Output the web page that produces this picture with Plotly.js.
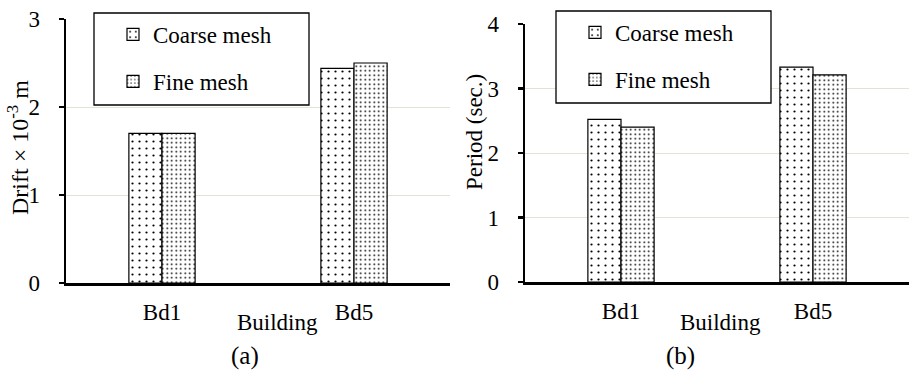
<!DOCTYPE html>
<html>
<head>
<meta charset="utf-8">
<script src="https://cdn.plot.ly/plotly-3.0.1.min.js"></script>
<style>html,body{margin:0;padding:0;background:#fff;}#chart{width:909px;height:379px;}</style>
</head>
<body>
<div id="chart"></div>
<script>
const buildings = ["Bd1", "Bd5"];
const driftCoarse = [1.70, 2.44];
const driftFine = [1.70, 2.50];
const periodCoarse = [2.52, 3.33];
const periodFine = [2.40, 3.21];
const seriesNames = ["Coarse mesh", "Fine mesh"];
const driftTicks = [0, 1, 2, 3];
const periodTicks = [0, 1, 2, 3, 4];

const FONT = "Liberation Serif";
const W = 909, H = 379;
const px = v => v / W;
const py = v => 1 - v / H;

const coarsePattern = {shape: ".", size: 7, solidity: 0.08, fgcolor: "#000", bgcolor: "#fff", fillmode: "replace"};
const finePattern = {shape: ".", size: 4.5, solidity: 0.12, fgcolor: "#000", bgcolor: "#fff", fillmode: "replace"};

function bar(x, y, name, pattern, xa, ya, legend) {
  return {
    type: "bar", x: x, y: y, name: name, xaxis: xa, yaxis: ya, legend: legend,
    legendgroup: legend + name,
    marker: {color: "#fff", pattern: pattern, line: {color: "#000", width: 1.2}},
    hoverinfo: "skip"
  };
}

const data = [
  bar(buildings, driftCoarse, seriesNames[0], coarsePattern, "x", "y", "legend"),
  bar(buildings, driftFine, seriesNames[1], finePattern, "x", "y", "legend"),
  bar(buildings, periodCoarse, seriesNames[0], coarsePattern, "x2", "y2", "legend2"),
  bar(buildings, periodFine, seriesNames[1], finePattern, "x2", "y2", "legend2")
];

const gridColor = "#e6e2d3";
function yax(domain, range, ticks) {
  return {
    domain: domain, range: range, tickvals: ticks, showgrid: true, gridcolor: gridColor, gridwidth: 1,
    showline: true, linecolor: "#000", linewidth: 2.5, ticks: "outside", ticklen: 5, tickwidth: 2.5, tickcolor: "#000",
    tickfont: {family: FONT, size: 23, color: "#000"}, zeroline: false, fixedrange: true, ticklabelstandoff: 14
  };
}
function xax(domain, anchor) {
  return {
    domain: domain, anchor: anchor, showline: true, linecolor: "#000", linewidth: 2.5, ticks: "", showgrid: false,
    tickfont: {family: FONT, size: 23, color: "#000"}, fixedrange: true, ticklabelstandoff: 7
  };
}

const legendFont = {family: FONT, size: 23, color: "#000"};
const layout = {
  width: W, height: H,
  margin: {l: 0, r: 0, t: 0, b: 0},
  paper_bgcolor: "#fff", plot_bgcolor: "#fff",
  font: {family: FONT, color: "#000"},
  barmode: "group", bargap: 0.655, bargroupgap: 0,
  showlegend: true,
  xaxis: xax([px(66), px(450)], "y"),
  yaxis: Object.assign(yax([py(283), py(19)], [0, 3], driftTicks), {anchor: "x"}),
  xaxis2: xax([px(525), px(909)], "y2"),
  yaxis2: Object.assign(yax([py(282), py(24)], [0, 4], periodTicks), {anchor: "x2"}),
  legend: {x: px(113), y: py(13), xanchor: "left", yanchor: "top", bgcolor: "rgba(0,0,0,0)", borderwidth: 0,
    font: legendFont, traceorder: "grouped", tracegroupgap: 14, itemwidth: 30},
  legend2: {x: px(575), y: py(11), xanchor: "left", yanchor: "top", bgcolor: "rgba(0,0,0,0)", borderwidth: 0,
    font: legendFont, traceorder: "grouped", tracegroupgap: 14, itemwidth: 30},
  shapes: [
    {type: "rect", xref: "paper", yref: "paper", x0: px(94), x1: px(309), y0: py(105), y1: py(13), line: {color: "#000", width: 1.3}, fillcolor: "#fff", layer: "above"},
    {type: "rect", xref: "paper", yref: "paper", x0: px(556), x1: px(771), y0: py(103), y1: py(11), line: {color: "#000", width: 1.3}, fillcolor: "#fff", layer: "above"}
  ],
  annotations: [
    {text: "Building", xref: "paper", yref: "paper", x: px(277), y: py(322), xanchor: "center", yanchor: "middle", showarrow: false, font: {family: FONT, size: 23, color: "#000"}},
    {text: "Building", xref: "paper", yref: "paper", x: px(720), y: py(322), xanchor: "center", yanchor: "middle", showarrow: false, font: {family: FONT, size: 23, color: "#000"}},
    {text: "(a)", xref: "paper", yref: "paper", x: px(245), y: py(356), xanchor: "center", yanchor: "middle", showarrow: false, font: {family: FONT, size: 25, color: "#000"}},
    {text: "(b)", xref: "paper", yref: "paper", x: px(680), y: py(356), xanchor: "center", yanchor: "middle", showarrow: false, font: {family: FONT, size: 25, color: "#000"}},
    {text: "Drift × 10<sup>-3</sup> m", xref: "paper", yref: "paper", x: px(18), y: py(148), xanchor: "center", yanchor: "middle", textangle: -90, showarrow: false, font: {family: FONT, size: 24, color: "#000"}},
    {text: "Period (sec.)", xref: "paper", yref: "paper", x: px(474), y: py(132), xanchor: "center", yanchor: "middle", textangle: -90, showarrow: false, font: {family: FONT, size: 23, color: "#000"}}
  ]
};

Plotly.newPlot("chart", data, layout, {displayModeBar: false, staticPlot: true});
</script>
</body>
</html>
